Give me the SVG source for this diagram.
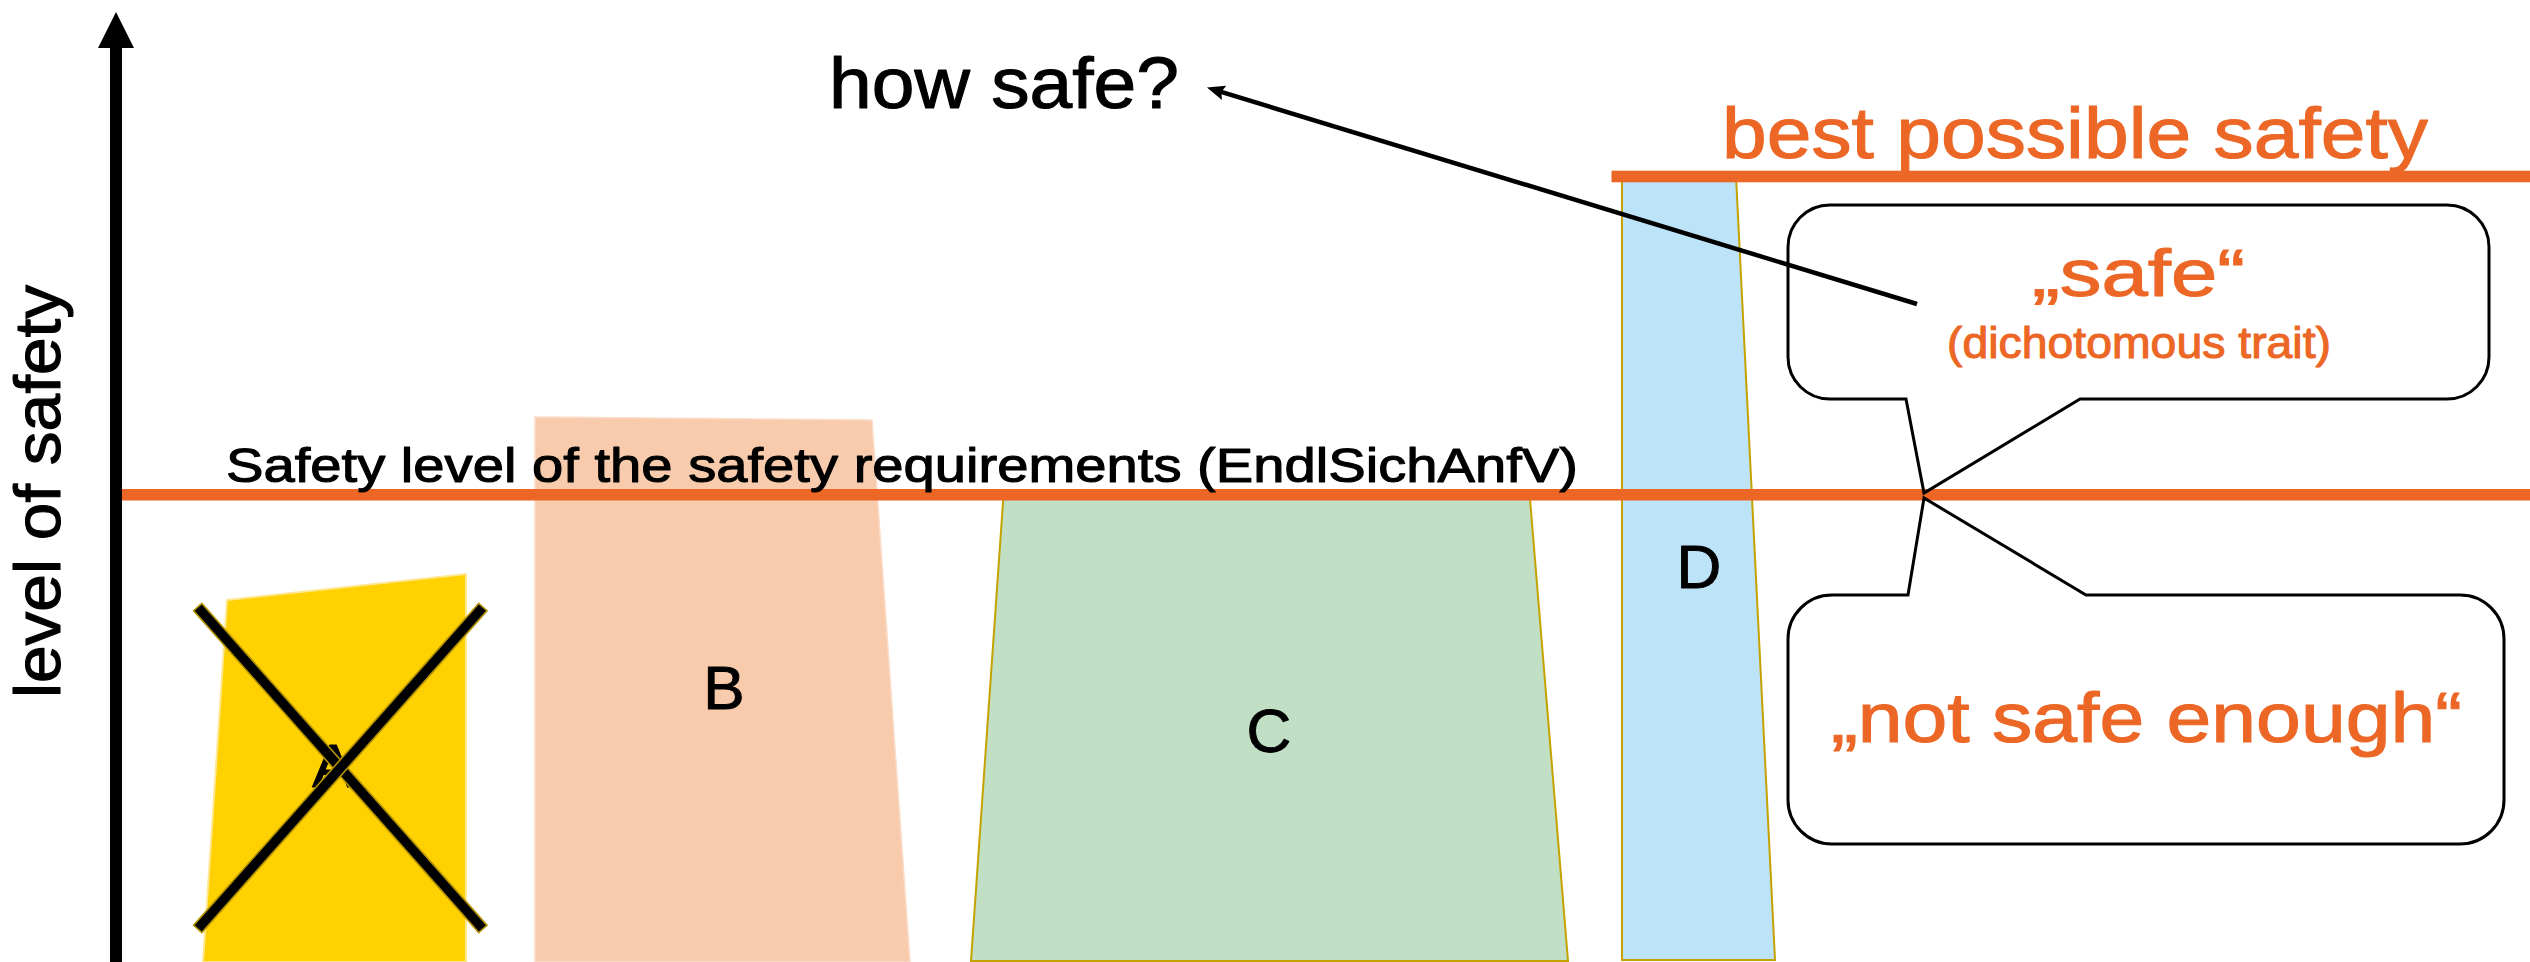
<svg xmlns="http://www.w3.org/2000/svg" width="2530" height="962" viewBox="0 0 2530 962">
<style>
  text { font-family: "Liberation Sans", Arial, sans-serif; stroke-linejoin: round; }
  .lbl { font-size: 62px; fill: #000; text-anchor: middle; stroke: #000; stroke-width: 1; }
  .blk { fill: #000; stroke: #000; stroke-width: 1.1; }
  .org { fill: #EC6726; }
  .otx { fill: #EC6726; stroke: #EC6726; stroke-width: 1.1; }
  .call { fill: none; stroke: #000; stroke-width: 3; stroke-linejoin: miter; }
  .cross { fill: #000; stroke: #B39200; stroke-width: 1.6; }
  .edge { stroke: #C4A200; stroke-width: 2; }
</style>
<defs>
  <marker id="ah" markerUnits="userSpaceOnUse" viewBox="0 -8 18 16" markerWidth="18" markerHeight="16" refX="10" refY="0" orient="auto">
    <path d="M0,-7.5 L18,0 L0,7.5 L3,0 Z" fill="#000"/>
  </marker>
</defs>
<rect width="2530" height="962" fill="#fff"/>

<g id="axis">
  <rect x="110" y="46" width="12" height="916" fill="#000"/>
  <polygon points="116,12 98,48 134,48" fill="#000"/>
  <text class="blk" transform="translate(60 698) rotate(-90)" x="0" y="0" font-size="64" textLength="413" lengthAdjust="spacingAndGlyphs">level of safety</text>
</g>

<g id="nodeB">
  <polygon points="535,417 872,420 910,962 535,962" fill="#F8CBAD" stroke="#FBDCC8" stroke-width="1.5"/>
  <text class="lbl" x="724" y="709">B</text>
</g>

<g id="nodeC">
  <polygon points="1003.6,494 1529.6,494 1568,961 971,961" fill="#C1DFC5" class="edge"/>
  <text class="lbl" x="1269" y="752">C</text>
</g>

<g id="nodeD">
  <polygon points="1622,176 1736,176 1775,960 1622,960" fill="#BDE3F8" class="edge"/>
  <text class="lbl" x="1699" y="588">D</text>
</g>

<g id="nodeA">
  <polygon points="227,600 466,574 466,962 203,962" fill="#FFD100" stroke="#FFE793" stroke-width="2"/>
  <text class="lbl" x="333" y="787">A</text>
  <rect class="cross" x="-215" y="-5.5" width="430" height="11" transform="translate(340.3 768) rotate(48.46)"/>
  <rect class="cross" x="-215" y="-5.5" width="430" height="11" transform="translate(340.3 768) rotate(-48.46)"/>
</g>

<g id="levels">
  <rect class="org" x="122" y="489" width="2408" height="11.5"/>
  <rect class="org" x="1611.5" y="170.7" width="918.5" height="11.6"/>
  <text class="blk" x="226" y="482" font-size="49" textLength="1352" lengthAdjust="spacingAndGlyphs" stroke-width="0.7">Safety level of the safety requirements (EndlSichAnfV)</text>
  <text class="otx" x="1722" y="158" font-size="73" textLength="706" lengthAdjust="spacingAndGlyphs">best possible safety</text>
</g>

<g id="howsafe">
  <text class="blk" x="829" y="108" font-size="73" textLength="350" lengthAdjust="spacingAndGlyphs">how safe?</text>
</g>

<g id="callout-safe">
  <path class="call" d="M1830,205 H2447 A42,42 0 0 1 2489,247 V357 A42,42 0 0 1 2447,399 H2080 L1924,493 L1906,399 H1830 A42,42 0 0 1 1788,357 V247 A42,42 0 0 1 1830,205 Z"/>
  <text class="otx" x="2032" y="296" font-size="67" textLength="213" lengthAdjust="spacingAndGlyphs">„safe“</text>
  <text class="otx" x="1947" y="358" font-size="44" textLength="384" lengthAdjust="spacingAndGlyphs" stroke-width="0.5">(dichotomous trait)</text>
</g>

<g id="callout-notsafe">
  <path class="call" d="M1832,595 H1908 L1924,498 L2086,595 H2460 A44,44 0 0 1 2504,639 V800 A44,44 0 0 1 2460,844 H1832 A44,44 0 0 1 1788,800 V639 A44,44 0 0 1 1832,595 Z"/>
  <text class="otx" x="1831" y="742" font-size="71" textLength="631" lengthAdjust="spacingAndGlyphs">„not safe enough“</text>
</g>

<g id="connectors">
  <line x1="1917" y1="304" x2="1214.6" y2="89.9" stroke="#000" stroke-width="4.5" marker-end="url(#ah)"/>
</g>
</svg>
